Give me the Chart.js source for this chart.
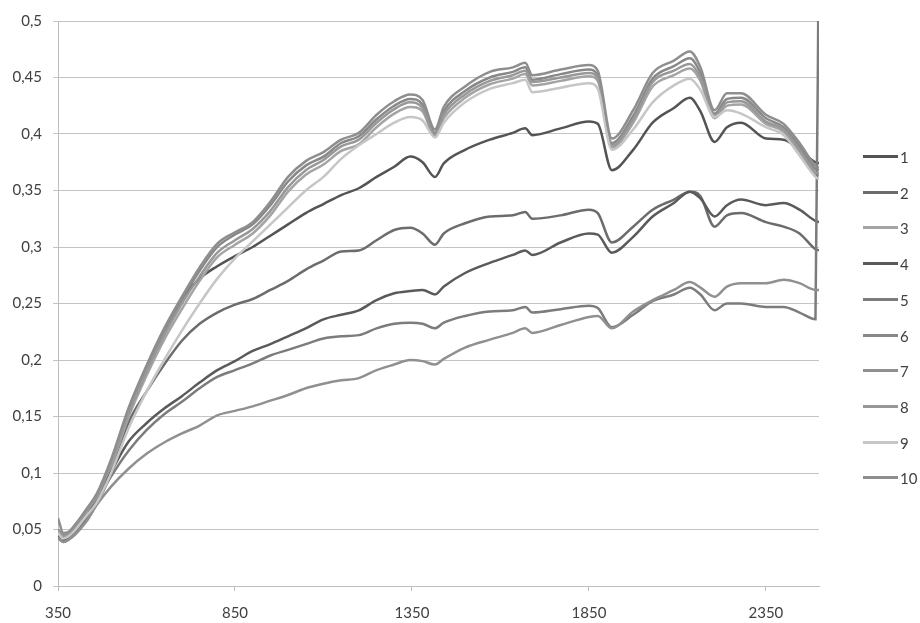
<!DOCTYPE html>
<html>
<head>
<meta charset="utf-8">
<script src="https://cdn.jsdelivr.net/npm/chart.js@4/dist/chart.umd.min.js"></script>
<style>
  html, body { margin: 0; padding: 0; background: #ffffff; }
  #wrap { position: relative; width: 920px; height: 623px; }
  #legend { position: absolute; left: 0; top: 0; width: 920px; height: 623px; pointer-events: none; }
  .li { position: absolute; left: 863px; height: 20px; font-family: Lato, "Open Sans", sans-serif; font-size: 15px; color: #404040; }
  .li .sw { position: absolute; left: 0; top: 8px; width: 35px; height: 3px; }
  .li .tx { position: absolute; left: 37px; top: 0; line-height: 20px; white-space: nowrap; }
</style>
</head>
<body>
<div id="wrap">
  <canvas id="c" width="920" height="623"></canvas>
  <div id="legend"></div>
</div>
<script>
// wavelengths (x values)
const wavelengths = [350,365,380,400,430,460,500,550,600,650,700,750,800,850,900,950,1000,1050,1100,1150,1200,1250,1300,1345,1380,1415,1440,1500,1570,1635,1670,1690,1770,1850,1875,1915,1975,2030,2090,2135,2165,2205,2240,2280,2350,2400,2445,2490,2500];

const seriesLabels = ["1","2","3","4","5","6","7","8","9","10"];
const xTickValues = [350, 850, 1350, 1850, 2350];

const s1 = [0.046,0.042,0.044,0.051,0.064,0.077,0.106,0.152,0.190,0.224,0.254,0.272,0.283,0.292,0.300,0.310,0.320,0.330,0.338,0.346,0.352,0.362,0.371,0.380,0.375,0.362,0.374,0.386,0.395,0.401,0.405,0.399,0.405,0.411,0.409,0.368,0.386,0.410,0.423,0.432,0.420,0.393,0.406,0.410,0.396,0.395,0.386,0.375,0.374];
const s2 = [0.045,0.041,0.043,0.049,0.060,0.073,0.100,0.145,0.172,0.196,0.217,0.232,0.242,0.249,0.254,0.262,0.270,0.280,0.288,0.296,0.297,0.306,0.315,0.317,0.312,0.302,0.312,0.321,0.327,0.328,0.331,0.325,0.328,0.333,0.330,0.304,0.318,0.333,0.342,0.349,0.345,0.318,0.328,0.330,0.322,0.318,0.312,0.298,0.297];
const s3 = [0.048,0.043,0.045,0.052,0.065,0.078,0.106,0.150,0.186,0.218,0.245,0.270,0.291,0.302,0.312,0.328,0.349,0.364,0.373,0.385,0.391,0.406,0.418,0.424,0.420,0.398,0.414,0.432,0.444,0.449,0.453,0.443,0.447,0.451,0.447,0.388,0.410,0.442,0.452,0.458,0.447,0.414,0.425,0.426,0.409,0.402,0.384,0.364,0.363];
const s4 = [0.044,0.040,0.042,0.048,0.060,0.078,0.101,0.128,0.144,0.157,0.168,0.180,0.191,0.199,0.208,0.214,0.221,0.228,0.236,0.240,0.244,0.253,0.259,0.261,0.262,0.258,0.265,0.277,0.286,0.293,0.297,0.293,0.304,0.312,0.311,0.295,0.309,0.327,0.339,0.349,0.343,0.327,0.337,0.342,0.337,0.339,0.333,0.323,0.322];
const s5 = [0.043,0.039,0.041,0.047,0.058,0.075,0.097,0.120,0.138,0.152,0.163,0.175,0.185,0.191,0.197,0.204,0.209,0.214,0.219,0.221,0.222,0.228,0.232,0.233,0.232,0.228,0.233,0.239,0.243,0.244,0.247,0.242,0.245,0.248,0.246,0.229,0.240,0.252,0.258,0.264,0.258,0.244,0.250,0.250,0.247,0.247,0.242,0.236,0.600];
const s6 = [0.050,0.045,0.047,0.054,0.067,0.080,0.110,0.157,0.194,0.226,0.254,0.279,0.300,0.311,0.320,0.337,0.358,0.372,0.380,0.392,0.398,0.413,0.425,0.431,0.426,0.401,0.420,0.438,0.450,0.455,0.459,0.448,0.453,0.457,0.452,0.392,0.416,0.449,0.460,0.467,0.454,0.418,0.431,0.432,0.414,0.406,0.389,0.369,0.368];
const s7 = [0.042,0.039,0.041,0.046,0.057,0.072,0.088,0.104,0.117,0.127,0.135,0.142,0.151,0.155,0.159,0.164,0.169,0.175,0.179,0.182,0.184,0.191,0.196,0.200,0.199,0.196,0.201,0.211,0.218,0.224,0.228,0.224,0.231,0.238,0.239,0.228,0.243,0.253,0.262,0.269,0.264,0.256,0.265,0.268,0.268,0.271,0.268,0.262,0.262];
const s8 = [0.049,0.044,0.046,0.053,0.066,0.079,0.108,0.153,0.190,0.222,0.250,0.274,0.295,0.306,0.316,0.332,0.353,0.368,0.377,0.389,0.395,0.410,0.422,0.428,0.423,0.399,0.417,0.435,0.447,0.452,0.456,0.446,0.450,0.454,0.449,0.390,0.413,0.446,0.456,0.462,0.450,0.416,0.428,0.429,0.411,0.404,0.386,0.366,0.365];
const s9 = [0.047,0.042,0.044,0.050,0.062,0.074,0.100,0.140,0.172,0.200,0.226,0.250,0.272,0.290,0.305,0.320,0.335,0.350,0.362,0.378,0.390,0.400,0.410,0.415,0.412,0.397,0.410,0.428,0.440,0.445,0.448,0.437,0.441,0.445,0.440,0.386,0.404,0.428,0.443,0.449,0.439,0.415,0.421,0.418,0.406,0.399,0.381,0.362,0.360];
const s10 = [0.060,0.047,0.048,0.055,0.068,0.082,0.112,0.158,0.195,0.228,0.256,0.282,0.303,0.313,0.322,0.340,0.362,0.376,0.384,0.395,0.401,0.417,0.429,0.435,0.430,0.404,0.424,0.442,0.455,0.459,0.463,0.452,0.457,0.461,0.456,0.396,0.421,0.454,0.465,0.473,0.459,0.421,0.436,0.436,0.417,0.409,0.392,0.372,0.370];

const seriesValues = [s1,s2,s3,s4,s5,s6,s7,s8,s9,s10];
const seriesColors = ["#545454","#6c6c6c","#a4a4a4","#5a5a5a","#7c7c7c","#888888","#909090","#989898","#c6c6c6","#8e8e8e"];

const datasets = seriesValues.map((vals, i) => ({
  label: seriesLabels[i],
  data: vals.map((v, j) => ({ x: wavelengths[j], y: v })),
  borderColor: seriesColors[i],
  backgroundColor: seriesColors[i],
  borderWidth: 2.5,
  pointRadius: 0,
  cubicInterpolationMode: 'monotone',
  order: seriesValues.length - 1 - i
}));

const fmt = v => String(Math.round(v * 100) / 100).replace('.', ',');

new Chart(document.getElementById('c'), {
  type: 'line',
  data: { datasets },
  options: {
    responsive: false,
    animation: false,
    devicePixelRatio: 1,
    layout: { padding: { top: 21, right: 101, bottom: 0, left: 0 } },
    plugins: { legend: { display: false }, tooltip: { enabled: false } },
    scales: {
      x: {
        type: 'linear',
        min: 350,
        max: 2500,
        afterBuildTicks: s => { s.ticks = xTickValues.map(v => ({ value: v })); },
        afterFit: s => { s.height = 37; },
        grid: { drawOnChartArea: false, drawTicks: true, tickLength: 5, color: '#bdbdbd' },
        border: { color: '#bdbdbd', width: 1 },
        ticks: { padding: 13, color: '#404040', font: { family: 'Lato', size: 15 }, maxRotation: 0, autoSkip: false, callback: v => String(v) }
      },
      y: {
        min: 0,
        max: 0.5,
        afterFit: s => { s.width = 58; },
        grid: { color: '#c4c4c4', lineWidth: 1, drawTicks: true, tickLength: 5 },
        border: { color: '#bdbdbd', width: 1 },
        ticks: { stepSize: 0.05, padding: 11, color: '#404040', font: { family: 'Lato', size: 15 }, callback: v => fmt(v) }
      }
    }
  }
});

// legend (HTML text)
const legendEl = document.getElementById('legend');
seriesLabels.forEach((lab, i) => {
  const item = document.createElement('div');
  item.className = 'li';
  item.style.top = (157 + i * 35.7 - 10) + 'px';
  const sw = document.createElement('div');
  sw.className = 'sw';
  sw.style.background = seriesColors[i];
  const tx = document.createElement('div');
  tx.className = 'tx';
  tx.textContent = lab;
  item.appendChild(sw);
  item.appendChild(tx);
  legendEl.appendChild(item);
});
</script>
</body>
</html>
